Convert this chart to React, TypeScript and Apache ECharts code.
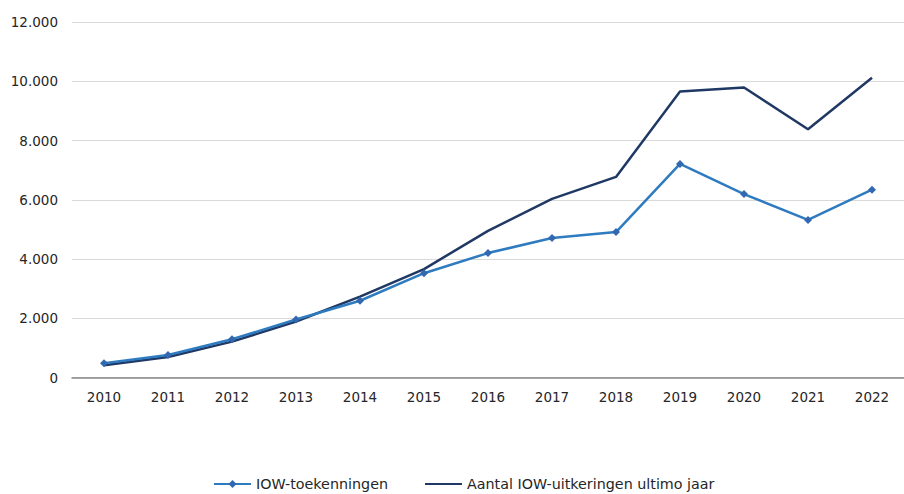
import React, { useEffect, useRef } from "react";
import * as echarts from "echarts";

const years = ["2010", "2011", "2012", "2013", "2014", "2015", "2016", "2017", "2018", "2019", "2020", "2021", "2022"];
const toekenningen = [480, 760, 1290, 1960, 2590, 3520, 4200, 4710, 4910, 7210, 6190, 5320, 6340];
const uitkeringen = [410, 690, 1210, 1890, 2730, 3660, 4950, 6030, 6770, 9650, 9790, 8380, 10120];
const seriesNames = ["IOW-toekenningen", "Aantal IOW-uitkeringen ultimo jaar"];

const fmt = (v: number) => {
  const s = String(Math.round(v));
  return s.replace(/\B(?=(\d{3})+(?!\d))/g, ".");
};

export default function App() {
  const ref = useRef<HTMLDivElement>(null);
  useEffect(() => {
    document.body.style.margin = "0";
    if (!ref.current) return;
    const chart = echarts.init(ref.current, undefined, { renderer: "svg" });
    const font = "DejaVu Sans, Verdana, sans-serif";
    chart.setOption({
      animation: false,
      backgroundColor: "#ffffff",
      textStyle: { fontFamily: font },
      grid: { left: 72, top: 22, width: 840, height: 355.5 },
      legend: {
        top: 477,
        left: 213,
        padding: 0,
        itemWidth: 37,
        itemHeight: 10,
        itemGap: 36,
        textStyle: { fontFamily: font, fontSize: 14.3, color: "#262626" },
        data: [
          { name: seriesNames[0] },
          { name: seriesNames[1], itemStyle: { opacity: 0 } },
        ],
      },
      xAxis: {
        type: "category",
        data: years,
        boundaryGap: true,
        axisLine: { lineStyle: { color: "#868686", width: 1.5 } },
        axisTick: { show: false },
        axisLabel: { margin: 12, fontSize: 13.5, color: "#262626", fontFamily: font },
      },
      yAxis: {
        type: "value",
        min: 0,
        max: 12000,
        interval: 2000,
        axisLine: { show: false },
        axisTick: { show: false },
        splitLine: { lineStyle: { color: "#d9d9d9", width: 1 } },
        axisLabel: {
          margin: 14,
          fontSize: 13.5,
          color: "#262626",
          fontFamily: font,
          formatter: (v: number) => fmt(v),
        },
      },
      series: [
        {
          name: seriesNames[0],
          type: "line",
          data: toekenningen,
          symbol: "diamond",
          symbolSize: 8,
          itemStyle: { color: "#3168B0" },
          lineStyle: { color: "#2E7BC0", width: 2.5 },
          z: 3,
        },
        {
          name: seriesNames[1],
          type: "line",
          data: uitkeringen,
          symbol: "none",
          itemStyle: { color: "#1F3864" },
          lineStyle: { color: "#1F3864", width: 2.5 },
          z: 2,
        },
      ],
    });
    return () => chart.dispose();
  }, []);
  return <div ref={ref} style={{ width: 904, height: 494 }} />;
}
